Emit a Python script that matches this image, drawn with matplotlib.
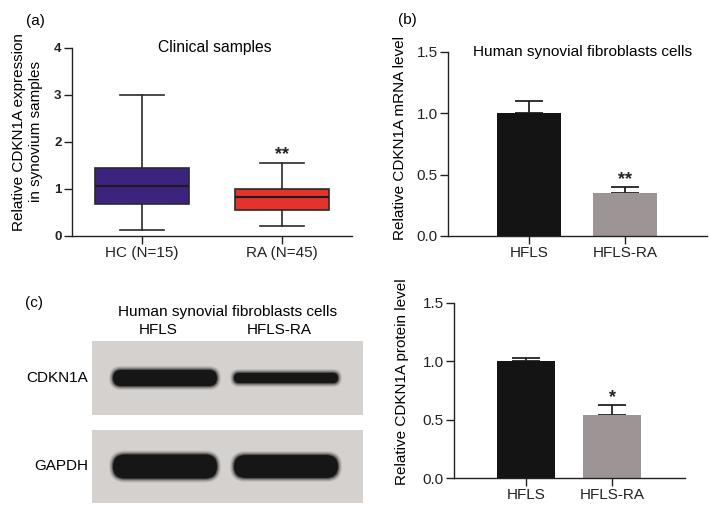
import matplotlib.pyplot as plt
from matplotlib.patches import Rectangle, FancyBboxPatch

plt.rcParams["font.family"] = ["Liberation Sans", "DejaVu Sans"]

W, H = 709, 507

# (a) clinical samples, box summaries
box_groups = ["HC (N=15)", "RA (N=45)"]
box_whislo = [0.12, 0.21]
box_q1 = [0.68, 0.56]
box_med = [1.06, 0.82]
box_q3 = [1.44, 1.00]
box_whishi = [3.00, 1.55]
box_colors = ["#3d2380", "#e3332b"]

# (b) mRNA level in cells
cell_groups = ["HFLS", "HFLS-RA"]
mrna_mean = [1.0, 0.35]
mrna_err = [0.10, 0.05]
mrna_marks = ["", "**"]

# (d) protein level in cells
protein_mean = [1.0, 0.54]
protein_err = [0.03, 0.09]
protein_marks = ["", "*"]
bar_colors = ["#141414", "#9d9595"]

# (c) western blot, relative band strength per lane
blot_rows = ["CDKN1A", "GAPDH"]
band_strength = [[0.67, 0.42], [1.0, 0.95]]


def px_axes(fig, left, top, right, bottom):
    return fig.add_axes([left / W, 1 - bottom / H, (right - left) / W, (bottom - top) / H])


def style_axes(ax):
    for side in ("top", "right"):
        ax.spines[side].set_visible(False)
    for side in ("left", "bottom"):
        ax.spines[side].set_linewidth(1.0)
        ax.spines[side].set_color("#222222")
    ax.tick_params(direction="out", length=5.5, width=1.0, pad=2, colors="#222222")
    ax.patch.set_alpha(0)


def bar_panel(ax, means, errs, marks, xlim):
    pos = range(len(means))
    ax.bar(pos, means, width=0.67, color=bar_colors, zorder=2)
    ax.errorbar(pos, means, yerr=[[0] * len(errs), errs], fmt="none",
                ecolor="#222222", elinewidth=1.3, capsize=10, capthick=1.3, zorder=1)
    for p, m, e, mk in zip(pos, means, errs, marks):
        if mk:
            ax.text(p, m + e + 0.02, mk, ha="center", va="baseline",
                    fontsize=13, fontweight="bold", color="#222222")
    ax.set_xlim(*xlim)
    ax.set_ylim(0, 1.5)
    ax.set_yticks([0, 0.5, 1.0, 1.5], ["0.0", "0.5", "1.0", "1.5"], fontsize=11)
    ax.set_xticks(list(pos), cell_groups, fontsize=11)
    style_axes(ax)


fig = plt.figure(figsize=(W / 100, H / 100), dpi=100)

# full-figure pixel canvas for the blot and free text
canvas = fig.add_axes([0, 0, 1, 1], zorder=0)
canvas.set_xlim(0, W)
canvas.set_ylim(H, 0)
canvas.axis("off")

# ---- (a) box plot
ax_a = px_axes(fig, 72, 48, 352, 236)
stats = []
for i in range(len(box_groups)):
    stats.append(dict(whislo=box_whislo[i], q1=box_q1[i], med=box_med[i],
                      q3=box_q3[i], whishi=box_whishi[i], fliers=[]))
line_kw = dict(color="#2a2a2a", linewidth=1.2)
bp = ax_a.bxp(stats, positions=[0, 1], widths=0.67, capwidths=0.32, patch_artist=True,
              showfliers=False, boxprops=dict(edgecolor="#2a2a2a", linewidth=1.2),
              medianprops=dict(color="#1c1c1c", linewidth=1.5),
              whiskerprops=line_kw, capprops=line_kw)
for patch, c in zip(bp["boxes"], box_colors):
    patch.set_facecolor(c)
ax_a.text(1, box_whishi[1] + 0.09, "**", ha="center", va="baseline",
          fontsize=13, fontweight="bold", color="#222222")
ax_a.set_xlim(-0.5, 1.5)
ax_a.set_ylim(0, 4)
ax_a.set_yticks([0, 1, 2, 3, 4], ["0", "1", "2", "3", "4"], fontsize=9.5, fontweight="bold")
ax_a.set_xticks([0, 1], box_groups, fontsize=11)
style_axes(ax_a)
ax_a.text(0.51, 1.0, "Clinical samples", transform=ax_a.transAxes,
          ha="center", va="center", fontsize=11.3)

# ---- (b) mRNA bars
ax_b = px_axes(fig, 448, 52, 707, 236)
bar_panel(ax_b, mrna_mean, mrna_err, mrna_marks, (-0.85, 1.86))
ax_b.text(0.52, 1.0, "Human synovial fibroblasts cells", transform=ax_b.transAxes,
          ha="center", va="center", fontsize=11.1)

# ---- (d) protein bars
ax_d = px_axes(fig, 454, 303, 685, 478)
bar_panel(ax_d, protein_mean, protein_err, protein_marks, (-0.83, 1.84))

# ---- (c) western blot
lane_x = [165, 286]
lane_w = 104
row_spans = [(341, 415), (430, 503)]
for r, name in enumerate(blot_rows):
    top, bot = row_spans[r]
    canvas.add_patch(Rectangle((92, top), 271, bot - top, facecolor="#d5d1ce",
                               edgecolor="none"))
    cy = (top + bot) / 2
    for cx, s in zip(lane_x, band_strength[r]):
        t = 24 * s
        for grow, alpha in ((4, 0.1), (3, 0.15), (2, 0.25), (1, 0.45), (0, 1.0)):
            canvas.add_patch(FancyBboxPatch(
                (cx - lane_w / 2 - grow, cy - t / 2 - grow), lane_w + 2 * grow, t + 2 * grow,
                boxstyle=f"round,pad=0,rounding_size={t / 2 + grow}",
                facecolor="#161616", edgecolor="none", alpha=alpha))
    canvas.text(88, cy, name, ha="right", va="center", fontsize=11)

for cx, name in zip(lane_x, cell_groups):
    canvas.text(cx - 7, 330, name, ha="center", va="center", fontsize=11)
canvas.text(228, 312, "Human synovial fibroblasts cells", ha="center", va="center", fontsize=11.1)

# panel letters and y labels
canvas.text(35, 21, "(a)", ha="center", va="center", fontsize=11)
canvas.text(407, 20, "(b)", ha="center", va="center", fontsize=11)
canvas.text(34, 303, "(c)", ha="center", va="center", fontsize=11)
canvas.text(27.5, 132, "Relative CDKN1A expression\nin synovium samples", rotation=90,
            ha="center", va="center", fontsize=11, linespacing=1.2)
canvas.text(400, 138, "Relative CDKN1A mRNA level", rotation=90,
            ha="center", va="center", fontsize=11)
canvas.text(402, 382, "Relative CDKN1A protein level", rotation=90,
            ha="center", va="center", fontsize=11)

fig.savefig("out.png", dpi=100)
